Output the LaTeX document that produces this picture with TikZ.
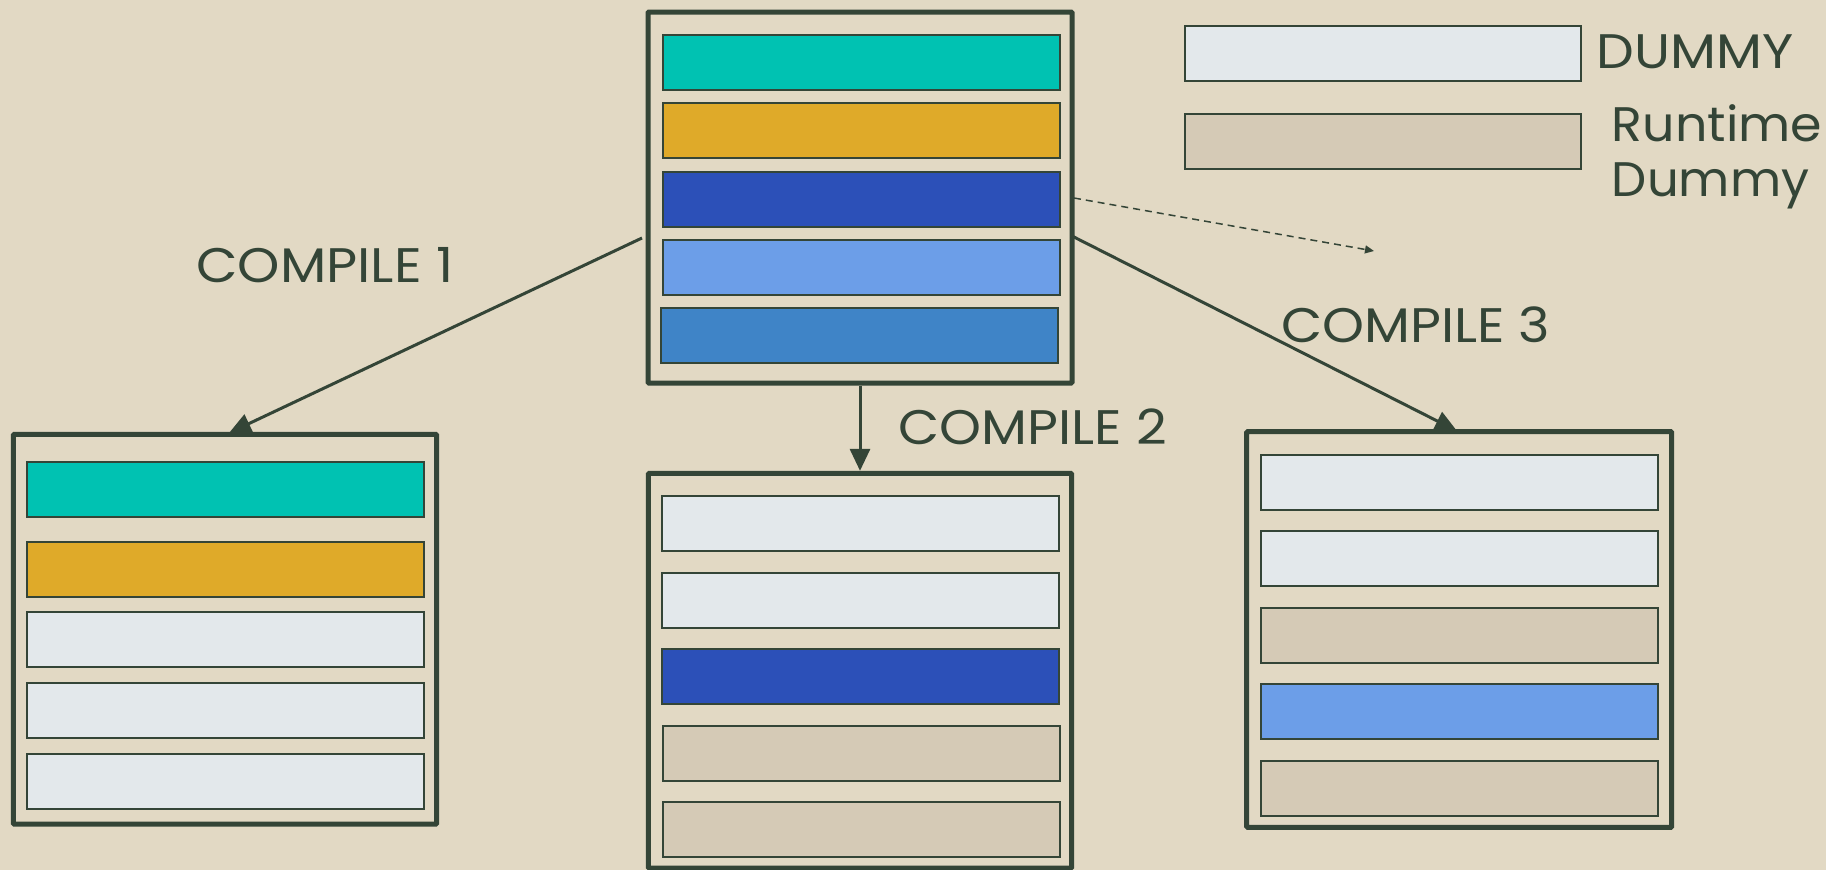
\documentclass[tikz,border=0pt]{standalone}
\usepackage{fontspec}
\setmainfont{Poppins}
\usetikzlibrary{arrows.meta,calc}
\definecolor{bg}{HTML}{E2D9C4}
\definecolor{ink}{HTML}{344537}
\definecolor{cteal}{HTML}{00C2B2}
\definecolor{cgold}{HTML}{DFAA29}
\definecolor{cnavy}{HTML}{2C50B8}
\definecolor{csky}{HTML}{6C9EE8}
\definecolor{csteel}{HTML}{3F84C7}
\definecolor{cdummy}{HTML}{E3E8EB}
\definecolor{crun}{HTML}{D5CAB6}
\pgfdeclarelayer{back}
\pgfsetlayers{back,main}
\tikzset{
  frame/.style={draw=ink, line width=5pt, fill=bg, rounded corners=1pt, inner sep=0pt},
  bar/.style={draw=ink, line width=2pt, inner sep=0pt, minimum width=397pt, minimum height=55pt},
  conn/.style={draw=ink, line width=3pt, -{Triangle[length=22pt,width=20pt]}},
  hint/.style={draw=ink, line width=1.5pt, dash pattern=on 7pt off 5pt, -{Triangle[length=9pt,width=8pt]}},
  lbl/.style={text=ink, anchor=base west, inner sep=0pt, font=\fontsize{48.5}{55}\selectfont}
}
\newcommand{\wide}[2]{\scalebox{#1}[1]{#2}}
\begin{document}
\begin{tikzpicture}[x=1pt,y=-1pt]
\begin{pgfonlayer}{back}
\fill[bg] (0,0) rectangle (1826,870);
\end{pgfonlayer}
\useasboundingbox (0,0) rectangle (1826,870);

% source module with five functions
\node[frame, minimum width=424pt, minimum height=371pt] (src) at (860,197.5) {};
\node[bar, fill=cteal]  (s1) at (861.7,62.3) {};
\node[bar, fill=cgold]  (s2) at (861.7,130.5) {};
\node[bar, fill=cnavy]  (s3) at (861.7,199) {};
\node[bar, fill=csky]   (s4) at (861.7,267) {};
\node[bar, fill=csteel] (s5) at (859.8,335.2) {};

% compile 1
\node[frame, minimum width=423.4pt, minimum height=389.7pt] (o1) at (225,629.2) {};
\node[bar, fill=cteal]  (a1) at (225,489) {};
\node[bar, fill=cgold]  (a2) at (225,569.3) {};
\node[bar, fill=cdummy] (a3) at (225,639.8) {};
\node[bar, fill=cdummy] (a4) at (225,710.7) {};
\node[bar, fill=cdummy] (a5) at (225,781.3) {};

% compile 2
\node[frame, minimum width=423.4pt, minimum height=394.7pt] (o2) at (860,670.7) {};
\node[bar, fill=cdummy] (b1) at (860,523.8) {};
\node[bar, fill=cdummy] (b2) at (860,600.2) {};
\node[bar, fill=cnavy]  (b3) at (860,676.3) {};
\node[bar, fill=crun]   (b4) at (861.5,753) {};
\node[bar, fill=crun]   (b5) at (861.5,829.5) {};

% compile 3
\node[frame, minimum width=425pt, minimum height=395.6pt] (o3) at (1459.2,629.5) {};
\node[bar, fill=cdummy] (c1) at (1459.2,482.2) {};
\node[bar, fill=cdummy] (c2) at (1459.2,558.8) {};
\node[bar, fill=crun]   (c3) at (1459.2,635.3) {};
\node[bar, fill=csky]   (c4) at (1459.2,711.8) {};
\node[bar, fill=crun]   (c5) at (1459.2,788.3) {};

% legend
\node[bar, fill=cdummy, minimum width=396pt] (kd) at (1383.3,53) {};
\node[bar, fill=crun,   minimum width=396pt] (kr) at (1383.3,141.5) {};
\node[lbl] (kdt) at (1596.7,68.3) {\wide{1.1}{DUMMY}};
\node[lbl] (krt) at (1611.7,141.7) {\wide{1.045}{Runtime}};
\node[lbl] (krt2) at (1611.7,196.7) {\wide{1.025}{Dummy}};

% labels of the three compilations
\node[lbl] (l1) at (196,282.3) {\wide{1.11}{COMPILE 1}};
\node[lbl] (l2) at (898.3,444) {\wide{1.1}{COMPILE 2}};
\node[lbl] (l3) at (1281,342.3) {\wide{1.1}{COMPILE 3}};

% connectors, kept under the frames
\coordinate (p1) at (642,238);
\coordinate (q1) at (229,433);
\coordinate (p3) at (1068,234);
\coordinate (q3) at (1457,431);
\coordinate (pd) at (1074,198);
\coordinate (qd) at (1374,251);
\begin{pgfonlayer}{back}
\draw[conn] (p1) -- (q1);
\draw[conn] (src.south) -- (o2.north);
\draw[conn] (p3) -- (q3);
\draw[hint] (pd) -- (qd);
\end{pgfonlayer}
\end{tikzpicture}
\end{document}
